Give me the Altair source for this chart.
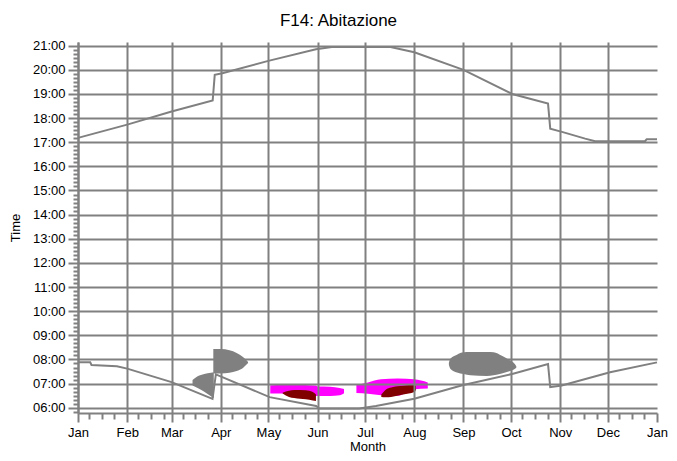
import altair as alt
import pandas as pd

# ---------------- data ----------------
MONTH_LABELS = ['Jan', 'Feb', 'Mar', 'Apr', 'May', 'Jun', 'Jul', 'Aug', 'Sep', 'Oct', 'Nov', 'Dec', 'Jan']
MONTH_DAYS = [0, 31, 59, 90, 120, 151, 181, 212, 243, 273, 304, 334, 365]
HOURS = list(range(6, 22))

# upper curve (evening)
top_day = [0, 31, 59, 84.9, 86.2, 91, 120, 150, 160, 197, 212, 243, 273.7, 296.3, 297.7, 305.1, 319.7, 326, 357.4, 358.5, 365]
top_time = [17.18, 17.73, 18.27, 18.73, 19.79, 19.86, 20.37, 20.85, 20.94, 20.94, 20.73, 20.0, 19.0, 18.6, 17.56, 17.43, 17.15, 17.04, 17.04, 17.12, 17.12]

# lower curve (morning)
bot_day = [0, 7.7, 8.5, 24.5, 31, 59, 84.8, 86.9, 120.8, 150.1, 152.2, 177.3, 187.8, 212, 242.3, 273.7, 296.3, 297.7, 305, 335.4, 365]
bot_time = [7.88, 7.88, 7.77, 7.72, 7.62, 7.06, 6.37, 7.38, 6.44, 6.07, 5.97, 5.97, 6.07, 6.37, 6.93, 7.40, 7.81, 6.85, 6.92, 7.47, 7.88]

# gray blobs
gA_day = [72.2, 75.4, 79.6, 83.8, 85.6]
gA_lo = [6.92, 6.82, 6.66, 6.48, 6.40]
gA_hi = [7.15, 7.30, 7.40, 7.45, 7.47]

gB_day = [85.3, 90, 95.5, 100, 104, 107.2]
gB_lo = [7.42, 7.42, 7.45, 7.52, 7.65, 7.85]
gB_hi = [8.43, 8.43, 8.38, 8.27, 8.10, 7.90]

gC_day = [233.8, 234.7, 238.9, 243.1, 247.3, 257.7, 262, 267.2, 271.4, 275.5, 276.3]
gC_lo = [7.78, 7.62, 7.46, 7.40, 7.35, 7.32, 7.35, 7.42, 7.50, 7.62, 7.66]
gC_hi = [7.86, 8.03, 8.20, 8.30, 8.31, 8.31, 8.30, 8.15, 8.00, 7.80, 7.72]

# magenta blobs
m1_day = [121.2, 129, 136, 150, 151, 159, 165, 167.7]
m1_lo = [6.59, 6.59, 6.55, 6.49, 6.49, 6.49, 6.52, 6.60]
m1_hi = [6.93, 6.94, 6.94, 6.92, 6.88, 6.87, 6.82, 6.78]

m2_day = [175.5, 182.8, 191, 201.6, 212, 220.5]
m2_lo = [6.61, 6.58, 6.52, 6.50, 6.77, 6.80]
m2_hi = [6.94, 7.05, 7.18, 7.21, 7.18, 7.05]

# maroon blobs
r1_day = [129, 133, 136.3, 143.6, 148, 150]
r1_lo = [6.59, 6.45, 6.40, 6.35, 6.30, 6.28]
r1_hi = [6.62, 6.70, 6.73, 6.72, 6.65, 6.55]

r2_day = [191.2, 194, 197.4, 205, 212, 213.1]
r2_lo = [6.45, 6.43, 6.45, 6.55, 6.65, 6.75]
r2_hi = [6.55, 6.75, 6.84, 6.91, 6.95, 6.88]


def blob_df(parts):
    frames = []
    for name, d, lo, hi in parts:
        frames.append(pd.DataFrame({'blob': name, 'day': d, 'lo': lo, 'hi': hi}))
    return pd.concat(frames, ignore_index=True)


gray_df = blob_df([('A', gA_day, gA_lo, gA_hi), ('B', gB_day, gB_lo, gB_hi), ('C', gC_day, gC_lo, gC_hi)])
mag_df = blob_df([('M1', m1_day, m1_lo, m1_hi), ('M2', m2_day, m2_lo, m2_hi)])
mar_df = blob_df([('R1', r1_day, r1_lo, r1_hi), ('R2', r2_day, r2_lo, r2_hi)])
top_df = pd.DataFrame({'day': top_day, 't': top_time})
bot_df = pd.DataFrame({'day': bot_day, 't': bot_time})

# ---------------- style ----------------
GRAY = '#808080'
FONT = 'Liberation Sans'
X_DOMAIN = [0, 365]
Y_DOMAIN = [5.782, 21.152]

minor_x = [m + k for m in MONTH_DAYS[:-1] for k in (7, 15, 23)]
minor_y = [h + k / 6 for h in range(5, 22) for k in range(1, 6) if Y_DOMAIN[0] <= h + k / 6 <= Y_DOMAIN[1]]

xs = alt.Scale(domain=X_DOMAIN, nice=False, zero=False)
ys = alt.Scale(domain=Y_DOMAIN, nice=False, zero=False)

month_expr = "[" + ",".join("'%s'" % m for m in MONTH_LABELS) + "][indexof([" + ",".join(str(d) for d in MONTH_DAYS) + "], datum.value)]"

x_major = alt.Axis(
    values=MONTH_DAYS, labelExpr=month_expr, orient='bottom',
    grid=True, gridColor=GRAY, gridWidth=2,
    gridOpacity={"condition": {"test": "datum.value >= 365", "value": 0}, "value": 1},
    domainColor=GRAY, domainWidth=2, tickColor=GRAY, tickWidth=2, tickSize=9,
    labelFont=FONT, labelFontSize=13, labelColor='black', labelPadding=4,
    labelFlush=False, labelOverlap=False,
    title='Month', titleFont=FONT, titleFontSize=13, titleFontWeight='normal',
    titleColor='black', titlePadding=1, zindex=1,
)
y_major = alt.Axis(
    values=HOURS, labelExpr="(datum.value < 10 ? '0' : '') + datum.value + ':00'", orient='left',
    grid=True, gridColor=GRAY, gridWidth=2,
    domainColor=GRAY, domainWidth=2, tickColor=GRAY, tickWidth=2, tickSize=10,
    labelFont=FONT, labelFontSize=13, labelColor='black', labelPadding=3,
    labelFlush=False, labelOverlap=False,
    title='Time', titleFont=FONT, titleFontSize=13, titleFontWeight='normal',
    titleColor='black', titlePadding=10, zindex=1,
)
x_minor = alt.Axis(values=minor_x, orient='bottom', domain=False, labels=False, grid=False,
                   tickColor=GRAY, tickWidth=2, tickSize=6, title=None)
y_minor = alt.Axis(values=minor_y, orient='left', domain=False, labels=False, grid=False,
                   tickColor=GRAY, tickWidth=2, tickSize=5, title=None)


def blob_layer(df, color):
    return alt.Chart(df).mark_area(color=color, opacity=1, interpolate='monotone').encode(
        x=alt.X('day:Q', scale=xs, axis=None),
        y=alt.Y('lo:Q', scale=ys, axis=None),
        y2='hi:Q',
        detail='blob:N',
    )


gray_layer = blob_layer(gray_df, GRAY)
mag_layer = blob_layer(mag_df, '#FF00FF')
mar_layer = blob_layer(mar_df, '#800000')

top_line = alt.Chart(top_df).mark_line(color=GRAY, strokeWidth=2).encode(
    x=alt.X('day:Q', scale=xs, axis=x_major),
    y=alt.Y('t:Q', scale=ys, axis=y_major),
)
bot_line = alt.Chart(bot_df).mark_line(color=GRAY, strokeWidth=2).encode(
    x=alt.X('day:Q', scale=xs, axis=x_minor),
    y=alt.Y('t:Q', scale=ys, axis=y_minor),
)

chart = alt.layer(gray_layer, mag_layer, mar_layer, top_line, bot_line).resolve_axis(
    x='independent', y='independent'
).properties(
    width=579, height=371,
    title=alt.TitleParams('F14: Abitazione', font=FONT, fontSize=17, fontWeight='normal',
                          anchor='middle', frame='bounds', color='black', offset=10),
    autosize=alt.AutoSizeParams(type='none'),
    padding={'left': 70, 'top': 34, 'right': 12, 'bottom': 40},
    background='white',
).configure_view(stroke=None)

chart.save('out.html', embed_options={'renderer': 'svg', 'actions': False})
